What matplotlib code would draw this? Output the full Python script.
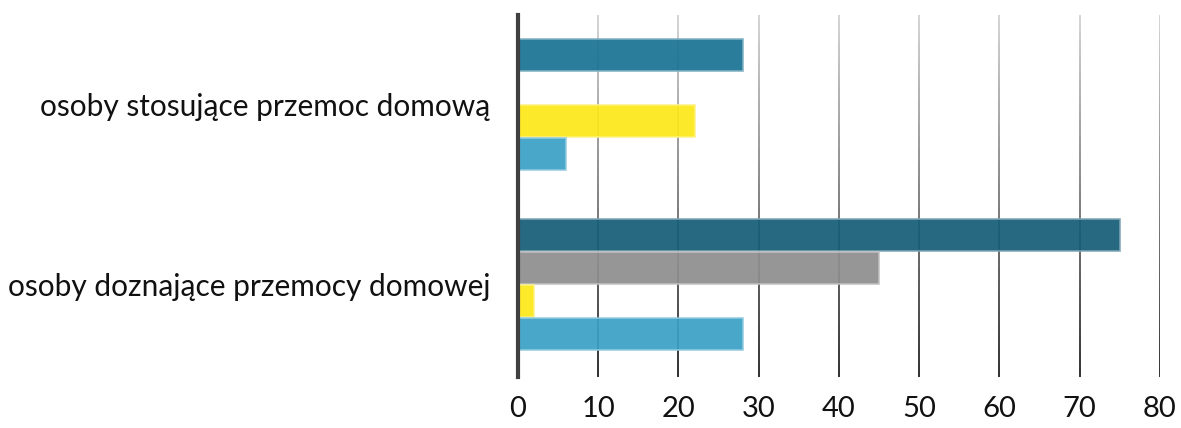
import numpy as np
import matplotlib.pyplot as plt
from matplotlib.collections import LineCollection
from matplotlib.colors import to_rgb

plt.rcParams['font.family'] = ['Lato', 'DejaVu Sans']

categories = ['osoby doznające przemocy domowej', 'osoby stosujące przemoc domową']
# series listed top-to-bottom inside each group
dark_vals = [75, 28]
gray_vals = [45, 0]
yellow_vals = [2, 22]
light_vals = [28, 6]
xticks = [0, 10, 20, 30, 40, 50, 60, 70, 80]

fig = plt.figure(figsize=(11.81, 4.28), dpi=100)
ax = fig.add_axes([0.4386, 0.1192, 0.9822 - 0.4386, 0.965 - 0.1192])

y = np.arange(len(categories))
h = 0.184
series = [
    (dark_vals, ['#155e78', '#1a7394'], 1.5),
    (gray_vals, ['#8e8e8e', '#8e8e8e'], 0.5),
    (yellow_vals, ['#fce818', '#fce818'], -0.5),
    (light_vals, ['#3ba1c5', '#3ba1c5'], -1.5),
]
for vals, cols, off in series:
    edges = [tuple(0.55 * np.array(to_rgb(c)) + 0.45) for c in cols]
    for yi, v, c, ec in zip(y, vals, cols, edges):
        if v > 0:
            ax.barh(yi + off * h, v, height=h * 0.97, color=c, alpha=0.93,
                    edgecolor=ec, linewidth=1.2, zorder=2)

ax.set_xlim(0, 80)
ax.set_ylim(-0.515, 1.5)

# gradient gridlines (light at top, dark at bottom), behind the bars
n = 60
ys = np.linspace(-0.515, 1.5, n + 1)
top = np.array(to_rgb('#d4d4d4'))
bot = np.array(to_rgb('#202020'))
for xt in xticks[1:]:
    segs = [[(xt, ys[i]), (xt, ys[i + 1])] for i in range(n)]
    cols = [tuple(bot + (top - bot) * (i / n)) for i in range(n)]
    ax.add_collection(LineCollection(segs, colors=cols, linewidths=1.3, zorder=1))

for s in ['top', 'right', 'bottom']:
    ax.spines[s].set_visible(False)
ax.spines['left'].set_color('#404040')
ax.spines['left'].set_linewidth(3)
ax.spines['left'].set_zorder(4)

ax.set_xticks(xticks)
ax.set_yticks(y)
ax.set_yticklabels(categories)
ax.tick_params(axis='x', length=0, pad=14, labelsize=21, labelcolor='#111111')
ax.tick_params(axis='y', length=0, pad=20, labelsize=21.5, labelcolor='#111111')

fig.savefig('out.png', dpi=100)
